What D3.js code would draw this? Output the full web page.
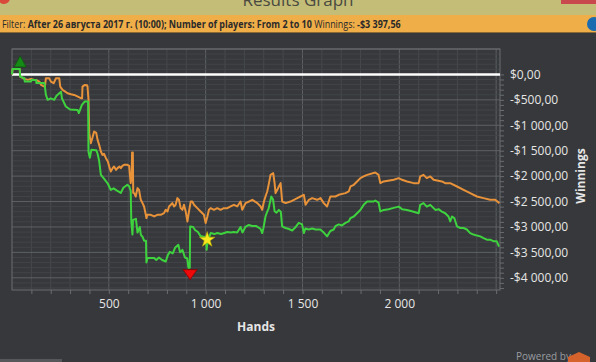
<!DOCTYPE html>
<html>
<head>
<meta charset="utf-8">
<script src="https://cdn.jsdelivr.net/npm/d3@7"></script>
<style>
  html, body { margin: 0; padding: 0; background: #36383b; overflow: hidden; }
  svg { display: block; font-family: "Open Sans", "Noto Sans", sans-serif; }
</style>
</head>
<body>
<svg id="chart" width="596" height="362"></svg>
<script>
// ---- Data ----
const greenHands = [0,3,40,42,64,66,98,100,124,126,167,170,175,184,200,218,230,253,258,278,300,339,345,361,375,393,395,402,410,435,442,450,459,475,495,510,525,540,562,575,596,605,613,616,622,625,640,648,660,665,675,682,692,694,700,734,745,759,775,794,805,815,830,842,859,868,880,893,905,911,918,920,935,945,960,974,990,1003,1005,1010,1026,1045,1060,1080,1096,1112,1130,1145,1163,1180,1190,1205,1223,1240,1260,1284,1292,1298,1309,1318,1325,1339,1348,1356,1366,1378,1388,1395,1412,1430,1447,1465,1481,1498,1507,1515,1532,1550,1567,1592,1610,1627,1644,1661,1670,1687,1704,1722,1739,1748,1765,1782,1799,1816,1834,1850,1868,1876,1893,1902,1920,1945,1971,1997,2014,2040,2074,2100,2108,2125,2142,2160,2177,2186,2203,2220,2237,2254,2263,2272,2284,2298,2315,2332,2349,2366,2383,2401,2418,2435,2452,2469,2486,2503,2515];
const greenWinnings = [0,108,108,-43,-75,-140,-140,-108,-108,-170,-170,-240,-400,-500,-470,-500,-420,-340,-470,-630,-690,-700,-760,-600,-535,-535,-1520,-1640,-1480,-1490,-1560,-1700,-1975,-2050,-2150,-2270,-2240,-2280,-2330,-2230,-2170,-2200,-2290,-2890,-3150,-2860,-2840,-3110,-3000,-3150,-3200,-3270,-3270,-3700,-3610,-3610,-3650,-3600,-3650,-3680,-3550,-3490,-3520,-3410,-3350,-3500,-3450,-3600,-3620,-3800,-3800,-2990,-3000,-3060,-3100,-3180,-3190,-3200,-3450,-3280,-3120,-3140,-3120,-3140,-3120,-3100,-3110,-3100,-3110,-3000,-3110,-3000,-2960,-2980,-2980,-3040,-3120,-3030,-2795,-2700,-2640,-2400,-2460,-2690,-2720,-2665,-2700,-2990,-3020,-3040,-3070,-3000,-2920,-2950,-3120,-3030,-3050,-3030,-3050,-3050,-3110,-3185,-3080,-3050,-2985,-2950,-2970,-2920,-2890,-2825,-2795,-2730,-2665,-2565,-2500,-2500,-2500,-2480,-2520,-2695,-2665,-2650,-2625,-2600,-2650,-2665,-2700,-2730,-2565,-2530,-2600,-2565,-2630,-2665,-2650,-2700,-2730,-2795,-2890,-2795,-2825,-2990,-3020,-3020,-3050,-3120,-3150,-3170,-3185,-3220,-3250,-3250,-3280,-3280,-3385];

const orangeHands = [0,3,40,42,64,82,98,115,124,141,150,167,170,175,192,201,215,227,244,249,261,275,287,305,321,340,356,362,364,376,388,390,395,399,407,415,424,435,442,450,459,467,475,485,495,502,510,520,527,537,545,555,562,570,579,596,605,608,613,618,620,624,626,631,639,648,656,665,674,682,691,694,699,717,734,751,768,785,794,803,811,820,828,837,845,854,862,871,880,888,897,906,914,923,931,940,957,974,991,1000,1009,1017,1026,1043,1060,1077,1094,1112,1129,1146,1163,1180,1189,1206,1223,1241,1267,1284,1292,1301,1309,1318,1327,1335,1349,1356,1361,1370,1378,1387,1395,1413,1438,1456,1473,1490,1507,1516,1533,1550,1576,1593,1610,1627,1644,1670,1687,1722,1739,1748,1765,1782,1799,1816,1834,1876,1893,1902,1919,1971,1997,2014,2040,2074,2100,2108,2125,2142,2160,2177,2220,2237,2263,2298,2332,2366,2401,2435,2469,2495,2517];
const orangeWinnings = [0,108,108,-43,-88,-108,-88,-108,-108,-141,-206,-240,-240,-75,-75,-141,-173,-75,-75,-240,-305,-338,-370,-390,-403,-436,-468,-468,-240,-206,-215,-240,-500,-1155,-1352,-1250,-1123,-1150,-1287,-1385,-1516,-1582,-1560,-1647,-1713,-1811,-1910,-1843,-1811,-1877,-1843,-1811,-1843,-1800,-1778,-1778,-1800,-1942,-2138,-2000,-1535,-1535,-2330,-2335,-2401,-2236,-2270,-2466,-2531,-2597,-2761,-2826,-2761,-2761,-2794,-2761,-2761,-2728,-2663,-2695,-2597,-2564,-2531,-2597,-2564,-2433,-2466,-2630,-2663,-2564,-2695,-2892,-2695,-2500,-2500,-2564,-2630,-2695,-2761,-2924,-2794,-2663,-2630,-2663,-2630,-2663,-2630,-2630,-2597,-2564,-2597,-2500,-2663,-2531,-2500,-2466,-2531,-2597,-2663,-2500,-2401,-2302,-2138,-1975,-1942,-2138,-2335,-2270,-2204,-2138,-2500,-2531,-2500,-2466,-2433,-2401,-2368,-2564,-2466,-2433,-2466,-2433,-2531,-2597,-2401,-2401,-2368,-2335,-2302,-2204,-2171,-2105,-2040,-2007,-1975,-1929,-1975,-2138,-2105,-2073,-2040,-2073,-2105,-2138,-2138,-2007,-1975,-2040,-2007,-2073,-2105,-2138,-2138,-2204,-2270,-2335,-2401,-2433,-2466,-2466,-2531];

const xMajorTicks = [500, 1000, 1500, 2000];
const yMajorTicks = [0, -500, -1000, -1500, -2000, -2500, -3000, -3500, -4000];
const starMarker = { hand: 1008, value: -3250 };
const titleText = "Results Graph";
const filterParts = [
  { t: "Filter: ", b: false },
  { t: "After 26 августа 2017 г. (10:00); Number of players: From 2 to 10", b: true },
  { t: " Winnings: ", b: false },
  { t: "-$3 397,56", b: true }
];

// ---- Setup ----
const svg = d3.select("#chart");
const W = 596, H = 362;
const plot = { left: 12, right: 500, top: 49, bottom: 290 };

const x = d3.scaleLinear().domain([0, 2520]).range([plot.left, plot.right]);
const y = d3.scaleLinear().domain([500, -4240]).range([plot.top, plot.bottom]);

const locale = d3.formatLocale({ decimal: ",", thousands: "\u00a0", grouping: [3], currency: ["$", ""], minus: "-" });
const fmtMoney = locale.format("$,.2f");
const fmtHands = locale.format(",d");

// background
svg.append("rect").attr("width", W).attr("height", H).attr("fill", "#36383b");

// title bar
svg.append("rect").attr("x", 0).attr("y", 0).attr("width", W).attr("height", 15).attr("fill", "#c3bd78");
svg.append("text").attr("x", 298).attr("y", 6).attr("text-anchor", "middle")
  .attr("font-size", 17).attr("fill", "#4a4a40").text(titleText);
svg.append("rect").attr("x", 561).attr("y", 0).attr("width", 35).attr("height", 4).attr("fill", "#c9484e");
svg.append("circle").attr("cx", 4).attr("cy", -2).attr("r", 6).attr("fill", "#d94a3a");

// filter band
svg.append("rect").attr("x", 0).attr("y", 15).attr("width", W).attr("height", 18).attr("fill", "#f0ae48");
svg.append("rect").attr("x", 0).attr("y", 32).attr("width", W).attr("height", 1).attr("fill", "#8a6a34");
const ft = svg.append("text").attr("x", 0).attr("y", 0).attr("font-size", 11).attr("fill", "#2a2a2a")
  .attr("transform", "translate(2,28)");
filterParts.forEach(p => ft.append("tspan").attr("font-weight", p.b ? "bold" : "normal").text(p.t));
const ftLen = ft.node().getComputedTextLength();
if (ftLen > 0) ft.attr("transform", `translate(2,28) scale(${Math.min(1, 399 / ftLen)},1)`);
svg.append("circle").attr("cx", 594).attr("cy", 24).attr("r", 7).attr("fill", "#1b6bb0");

// grid
const g = svg.append("g");
const xMinor = d3.range(100, 2520, 100);
const yMinor = d3.range(500, -4241, -100);
g.selectAll(".vmin").data(xMinor).join("line")
  .attr("x1", d => x(d)).attr("x2", d => x(d)).attr("y1", plot.top).attr("y2", plot.bottom)
  .attr("stroke", d => d % 500 === 0 ? "#5f6165" : "#47494d").attr("stroke-width", 1);
g.selectAll(".hmin").data(yMinor).join("line")
  .attr("x1", plot.left).attr("x2", plot.right).attr("y1", d => y(d)).attr("y2", d => y(d))
  .attr("stroke", d => d % 500 === 0 ? "#5f6165" : "#424448").attr("stroke-width", 1);
g.append("rect").attr("x", plot.left).attr("y", plot.top).attr("width", plot.right - plot.left)
  .attr("height", plot.bottom - plot.top).attr("fill", "none").attr("stroke", "#6a6c70").attr("stroke-width", 1);

// axes
const xAxis = d3.axisBottom(x).tickValues(xMinor).tickSize(4).tickFormat(d => xMajorTicks.includes(d) ? fmtHands(d) : "");
const xg = svg.append("g").attr("transform", `translate(0,${plot.bottom})`).call(xAxis);
xg.select(".domain").remove();
xg.selectAll(".tick line").attr("stroke", "#6a6c70");
xg.selectAll(".tick text").attr("fill", "#e6e6e6").attr("font-size", 12).attr("dy", "0.71em").attr("y", 9)
  .attr("font-family", "'Open Sans', sans-serif");

const yAxis = d3.axisRight(y).tickValues(yMinor.filter(d => d <= 0)).tickSize(4).tickPadding(6)
  .tickFormat(d => yMajorTicks.includes(d) ? fmtMoney(d) : "");
const yg = svg.append("g").attr("transform", `translate(${plot.right},0)`).call(yAxis);
yg.select(".domain").remove();
yg.selectAll(".tick line").attr("stroke", "#6a6c70");
yg.selectAll(".tick text").attr("fill", "#e6e6e6").attr("font-size", 12).attr("font-family", "'Open Sans', sans-serif");

// axis titles
svg.append("text").attr("x", 256).attr("y", 331).attr("text-anchor", "middle")
  .attr("font-size", 12).attr("font-weight", "bold").attr("fill", "#e6e6e6").text("Hands");
svg.append("text").attr("transform", "translate(585,176) rotate(-90)").attr("text-anchor", "middle")
  .attr("font-size", 12).attr("font-weight", "bold").attr("fill", "#e6e6e6").text("Winnings");

// zero line
svg.append("line").attr("x1", plot.left).attr("x2", plot.right).attr("y1", y(0)).attr("y2", y(0))
  .attr("stroke", "#ffffff").attr("stroke-width", 2.5);

// lines
const line = d3.line().x(d => x(d[0])).y(d => y(d[1])).curve(d3.curveLinear);
const orangeData = orangeHands.map((h, i) => [h, orangeWinnings[i]]);
const greenData = greenHands.map((h, i) => [h, greenWinnings[i]]);
svg.append("path").datum(orangeData).attr("d", line).attr("fill", "none")
  .attr("stroke", "#e8923a").attr("stroke-width", 2).attr("stroke-linejoin", "round");
svg.append("path").datum(greenData).attr("d", line).attr("fill", "none")
  .attr("stroke", "#3ed23e").attr("stroke-width", 2).attr("stroke-linejoin", "round");

// max / min markers
const maxIdx = d3.maxIndex(greenWinnings), minIdx = d3.minIndex(greenWinnings);
const mxX = x((greenHands[maxIdx] + greenHands[maxIdx + 1]) / 2) + 4, mxY = y(greenWinnings[maxIdx]);
svg.append("path").attr("d", `M${mxX},${mxY - 13} L${mxX + 6},${mxY - 2} L${mxX - 6},${mxY - 2} Z`)
  .attr("fill", "#158a15").attr("stroke", "#0c5a0c").attr("stroke-width", 0.8);
const mnX = x((greenHands[minIdx] + greenHands[minIdx + 1]) / 2) + 1, mnY = y(greenWinnings[minIdx]);
svg.append("path").attr("d", `M${mnX - 7},${mnY + 2} L${mnX + 7},${mnY + 2} L${mnX},${mnY + 12} Z`)
  .attr("fill", "#ee0a0a").attr("stroke", "#8a0000").attr("stroke-width", 0.8);

// star
const star = d3.symbol().type(d3.symbolStar).size(75);
svg.append("path").attr("d", star()).attr("transform", `translate(${x(starMarker.hand)},${y(starMarker.value)})`)
  .attr("fill", "#f5e61e").attr("stroke", "#b8a800").attr("stroke-width", 0.5);

// footer bits
svg.append("rect").attr("x", 0).attr("y", 359).attr("width", 62).attr("height", 3).attr("fill", "#55575b");
svg.append("text").attr("x", 516).attr("y", 360).attr("font-size", 10).attr("fill", "#9a9ca0").text("Powered by");
svg.append("path").attr("d", "M579,352 L590,357 L590,368 L579,373 L568,368 L568,357 Z").attr("fill", "#d4622a");
</script>
</body>
</html>
